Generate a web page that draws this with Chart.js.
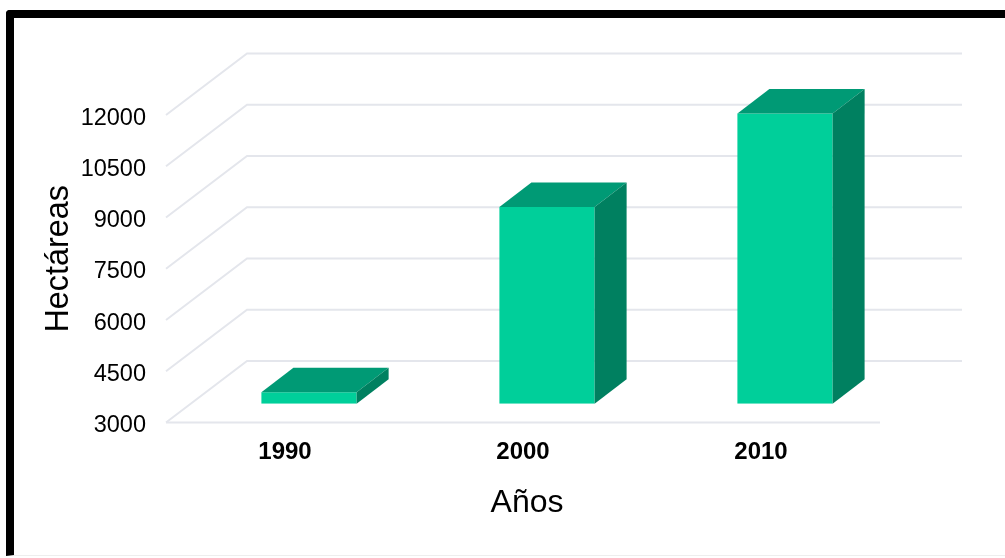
<!DOCTYPE html>
<html lang="es">
<head>
<meta charset="utf-8">
<title>Hectáreas por año</title>
<script src="https://cdn.jsdelivr.net/npm/chart.js@4"></script>
<style>
  html, body { margin: 0; background: #fff; }
  #frame {
    position: absolute; left: 6px; top: 10px; width: 999px; height: 546px;
    border-left: 8px solid #000; border-top: 8px solid #000;
    border-bottom: 1px solid #eee; border-top-left-radius: 4px; box-sizing: border-box;
  }
  #wrap { position: absolute; left: 0; top: 0; width: 1005px; height: 558px; }
</style>
</head>
<body>
<div id="frame"></div>
<div id="wrap"><canvas id="chart" width="1005" height="558"></canvas></div>
<script>
const years = ['1990', '2000', '2010'];
const hectareas = [3340, 8760, 11500];
const yMin = 3000;
const yMax = 12000;
const yStep = 1500;

const font = 'Arial, "Liberation Sans", sans-serif';
const gridColor = '#e4e6ec';

// offsets of the fake 3d box
const wall = { dx: 81, dy: -61.5 };      // floor front edge -> back wall
const barShift = { dx: 24, dy: -18.7 };  // bars stand partway into the floor
const barDepth = { dx: 32, dy: -24.5 };

const wallPlugin = {
  id: 'wall',
  afterLayout(chart) {
    // axis titles sit off centre in the original
    chart.scales.x.right += 8;
    chart.scales.y.top -= 20;
  },
  beforeDatasetsDraw(chart) {
    const { ctx, scales: { x, y } } = chart;
    ctx.save();
    ctx.strokeStyle = gridColor;
    ctx.lineWidth = 2;
    y.ticks.forEach(t => {
      const py = y.getPixelForValue(t.value);
      ctx.beginPath();
      ctx.moveTo(chart.chartArea.left, py);
      ctx.lineTo(chart.chartArea.left + wall.dx, py + wall.dy);
      ctx.lineTo(chart.chartArea.right + wall.dx + 1, py + wall.dy);
      ctx.stroke();
    });
    // front edge of the floor
    ctx.beginPath();
    ctx.moveTo(chart.chartArea.left, chart.chartArea.bottom);
    ctx.lineTo(chart.chartArea.right, chart.chartArea.bottom);
    ctx.stroke();
    ctx.restore();
  }
};

function face(ctx, color, pts) {
  ctx.fillStyle = color;
  ctx.beginPath();
  pts.forEach((p, i) => i ? ctx.lineTo(p[0], p[1]) : ctx.moveTo(p[0], p[1]));
  ctx.closePath();
  ctx.fill();
}

const boxPlugin = {
  id: 'box',
  beforeDatasetDraw(chart) {
    chart.ctx.save();
    chart.ctx.translate(barShift.dx, barShift.dy);
  },
  afterDatasetDraw(chart, args) {
    const { ctx } = chart;
    args.meta.data.forEach(bar => {
      const l = bar.x - bar.width / 2;
      const r = bar.x + bar.width / 2;
      const { dx, dy } = barDepth;
      face(ctx, '#009a75', [[l, bar.y], [r, bar.y], [r + dx, bar.y + dy], [l + dx, bar.y + dy]]);
      face(ctx, '#008060', [[r, bar.y], [r + dx, bar.y + dy], [r + dx, bar.base + dy], [r, bar.base]]);
    });
    ctx.restore();
  }
};

new Chart(document.getElementById('chart'), {
  type: 'bar',
  data: {
    labels: years,
    datasets: [{
      data: hectareas,
      base: yMin,
      backgroundColor: '#00cf9a',
      borderWidth: 0,
      barPercentage: 0.4,
      categoryPercentage: 1
    }]
  },
  options: {
    responsive: false,
    animation: false,
    layout: { padding: { left: 0, top: 115, right: 125, bottom: 0 } },
    plugins: { legend: { display: false }, tooltip: { enabled: false } },
    scales: {
      x: {
        grid: { display: false },
        border: { display: false },
        afterFit(s) { s.height = 135.5; },
        ticks: { color: '#000', padding: 7, font: { family: font, size: 24, weight: 'bold' } },
        title: {
          display: true, text: 'Años', color: '#000',
          font: { family: font, size: 32 },
          padding: { top: 0, bottom: 36 }
        }
      },
      y: {
        min: yMin,
        max: yMax,
        grid: { display: false },
        border: { display: false },
        afterFit(s) { s.width = 166; },
        ticks: {
          stepSize: yStep,
          color: '#000',
          padding: 12,
          // empty first line + small line height nudges the label 3px down
          callback: v => ['', String(v)],
          font: { family: font, size: 23.5, lineHeight: 0.26 }
        },
        title: {
          display: true, text: 'Hectáreas', color: '#000',
          font: { family: font, size: 32.4 },
          padding: { top: 40, bottom: 0 }
        }
      }
    }
  },
  plugins: [wallPlugin, boxPlugin]
});
</script>
</body>
</html>
